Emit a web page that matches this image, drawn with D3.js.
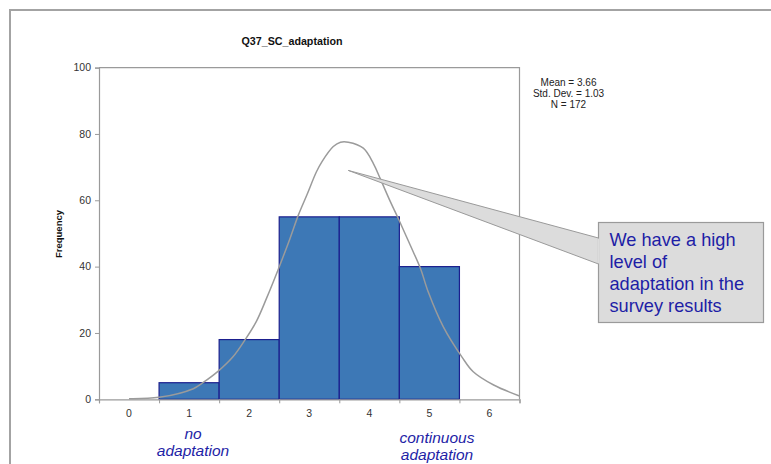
<!DOCTYPE html>
<html>
<head>
<meta charset="utf-8">
<script src="https://cdn.jsdelivr.net/npm/d3@7"></script>
<style>
  html, body { margin: 0; padding: 0; background: #fff; }
  svg { display: block; }
  text { font-family: Arial, "Liberation Sans", sans-serif; }
</style>
</head>
<body>
<svg id="chart" width="771" height="464"></svg>
<script>
// Histogram of Q37_SC_adaptation responses with a fitted normal curve
const title = "Q37_SC_adaptation";
const categories = [1, 2, 3, 4, 5];
const frequencies = [5, 18, 55, 55, 40];
const xTickLabels = [0, 1, 2, 3, 4, 5, 6];
const binEdges = [-0.5, 0.5, 1.5, 2.5, 3.5, 4.5, 5.5, 6.5];
const yTicks = [0, 20, 40, 60, 80, 100];
const statsLines = ["Mean = 3.66", "Std. Dev. = 1.03", "N = 172"];
// Normal curve as plotted: [score, frequency]
const curveX = [0.0, 0.5, 1.07, 1.23, 1.48, 1.73, 1.93, 2.12, 2.29, 2.48, 2.68, 2.82, 2.96, 3.12, 3.21, 3.40, 3.52, 3.65, 3.90, 4.07, 4.18, 4.35, 4.48, 4.68, 4.85, 4.98, 5.23, 5.54, 5.73, 6.07, 6.5];
const curveY = [0.2, 0.6, 3.2, 5.0, 8.4, 12.8, 17.9, 23.5, 30.5, 39.0, 48.5, 55.6, 61.6, 68.6, 71.6, 76.2, 77.5, 77.5, 75.7, 71.0, 66.6, 59.6, 54.6, 46.5, 39.5, 32.4, 21.9, 12.8, 8.3, 4.3, 1.0];
const lowLabel = ["no", "adaptation"];
const highLabel = ["continuous", "adaptation"];
const calloutLines = ["We have a high", "level of", "adaptation in the", "survey results"];
const calloutTarget = [3.65, 69];

const svg = d3.select("#chart");

const x = d3.scaleLinear().domain([-0.5, 6.5]).range([99, 519.5]);
const y = d3.scaleLinear().domain([0, 100]).range([399.3, 67.6]);

// outer frame
svg.append("path")
  .attr("d", "M10,466 L10,10 L773,10")
  .attr("fill", "none")
  .attr("stroke", "#a3a3a3")
  .attr("stroke-width", 2);

// title
svg.append("text")
  .attr("x", 292).attr("y", 45)
  .attr("text-anchor", "middle")
  .attr("font-size", 10.7).attr("font-weight", "bold")
  .attr("fill", "#111")
  .text(title);

// plot frame (top and right edges)
svg.append("path")
  .attr("d", `M${x(-0.5)},${y(100)} L${x(6.5)},${y(100)} L${x(6.5)},${y(0)}`)
  .attr("fill", "none").attr("stroke", "#9a9a9a").attr("stroke-width", 1.2);

// bars
svg.append("g").selectAll("rect")
  .data(categories)
  .join("rect")
  .attr("x", (d) => x(d - 0.5))
  .attr("width", (d) => x(d + 0.5) - x(d - 0.5))
  .attr("y", (d, i) => y(frequencies[i]))
  .attr("height", (d, i) => y(0) - y(frequencies[i]))
  .attr("fill", "#3d78b6")
  .attr("stroke", "#1b1f8e")
  .attr("stroke-width", 1.2);

// y axis
const yAxis = d3.axisLeft(y).tickValues(yTicks).tickSize(4).tickPadding(4);
const gy = svg.append("g").attr("transform", `translate(${x(-0.5)},0)`).call(yAxis);
// x axis: ticks on bin edges, labels at category centres
const xAxis = d3.axisBottom(x).tickValues(binEdges).tickSize(4).tickFormat("");
const gx = svg.append("g").attr("transform", `translate(0,${y(0)})`).call(xAxis);
[gy, gx].forEach((g) => {
  g.select(".domain").attr("stroke", "#9a9a9a").attr("stroke-width", 1.2);
  g.selectAll(".tick line").attr("stroke", "#9a9a9a");
});
gy.selectAll(".tick text")
  .attr("font-size", 10.5).attr("fill", "#333")
  .attr("font-family", "Arial, 'Liberation Sans', sans-serif");

svg.append("g").selectAll("text")
  .data(xTickLabels)
  .join("text")
  .attr("x", (d) => x(d))
  .attr("y", y(0) + 17.5)
  .attr("text-anchor", "middle")
  .attr("font-size", 10.5).attr("fill", "#333")
  .text((d) => d);

// y axis title
svg.append("text")
  .attr("transform", `translate(62,234) rotate(-90)`)
  .attr("text-anchor", "middle")
  .attr("font-size", 9.5).attr("font-weight", "bold")
  .attr("fill", "#111")
  .text("Frequency");

// normal curve
const line = d3.line()
  .x((d, i) => x(curveX[i]))
  .y((d) => y(d))
  .curve(d3.curveCatmullRom.alpha(0.5));
svg.append("path")
  .datum(curveY)
  .attr("d", line)
  .attr("fill", "none")
  .attr("stroke", "#9b9b9b")
  .attr("stroke-width", 1.5);

// summary statistics
svg.append("g").selectAll("text")
  .data(statsLines)
  .join("text")
  .attr("x", 568.5)
  .attr("y", (d, i) => 86.3 + i * 10.7)
  .attr("text-anchor", "middle")
  .attr("font-size", 10).attr("fill", "#222")
  .text((d) => d);

// end-point labels under the x axis
const endLabels = [
  { lines: lowLabel, cx: 193, y0: 438.5 },
  { lines: highLabel, cx: 437, y0: 442.5 }
];
endLabels.forEach((lab) => {
  svg.append("g").selectAll("text")
    .data(lab.lines)
    .join("text")
    .attr("x", lab.cx)
    .attr("y", (d, i) => lab.y0 + i * 17.5)
    .attr("text-anchor", "middle")
    .attr("font-size", 15.5).attr("font-style", "italic")
    .attr("fill", "#1e1ea6")
    .text((d) => d);
});

// callout box with pointer
const box = { x: 598.5, y: 222.5, w: 165, h: 100 };
const tipX = x(calloutTarget[0]), tipY = y(calloutTarget[1]);
svg.append("path")
  .attr("d", `M${box.x},238 L${tipX},${tipY} L${box.x},264`)
  .attr("fill", "#dcdcdc").attr("stroke", "#9a9a9a").attr("stroke-width", 1);
svg.append("rect")
  .attr("x", box.x).attr("y", box.y)
  .attr("width", box.w).attr("height", box.h)
  .attr("fill", "#dcdcdc").attr("stroke", "#9a9a9a").attr("stroke-width", 1.2);
// cover the pointer seam on the box edge
svg.append("line")
  .attr("x1", box.x).attr("x2", box.x)
  .attr("y1", 238.6).attr("y2", 263.4)
  .attr("stroke", "#dcdcdc").attr("stroke-width", 1.4);
svg.append("g").selectAll("text")
  .data(calloutLines)
  .join("text")
  .attr("x", 609.5)
  .attr("y", (d, i) => 245.8 + i * 22.2)
  .attr("font-size", 18.2)
  .attr("fill", "#1e1ea6")
  .text((d) => d);
</script>
</body>
</html>
